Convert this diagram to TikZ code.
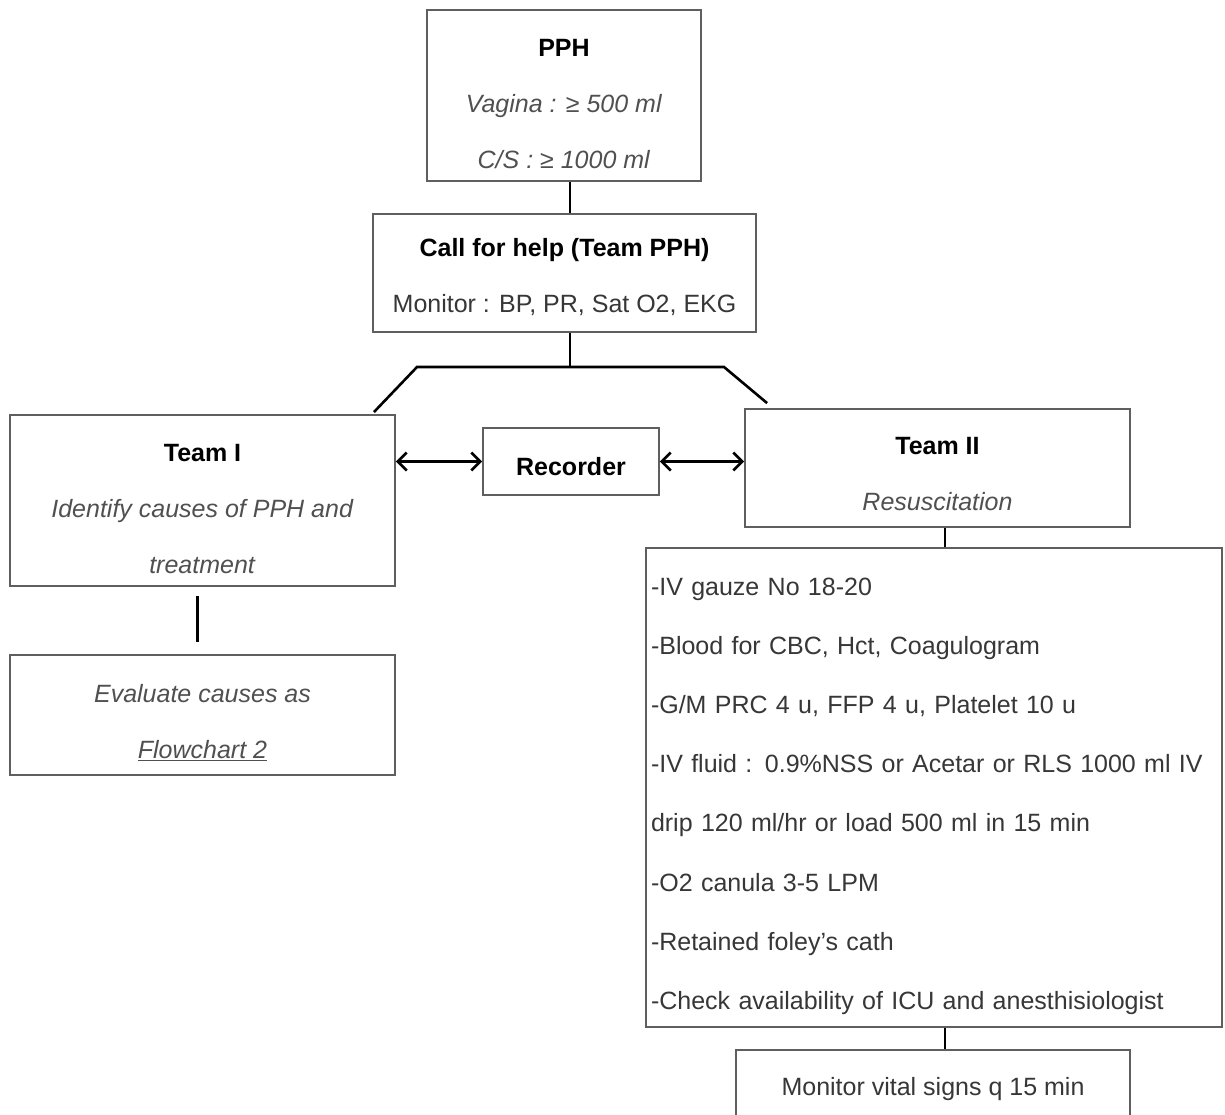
\documentclass[tikz,border=0pt]{standalone}
\usepackage{fontspec}
\setmainfont{Liberation Sans}
\usetikzlibrary{arrows.meta,calc}
\definecolor{boxgray}{RGB}{95,95,95}
\definecolor{txtgray}{RGB}{55,55,55}
\definecolor{itgray}{RGB}{80,80,80}
\newcommand{\hd}[1]{\textcolor{black}{\textbf{#1}}}
\newcommand{\itx}[1]{\textcolor{itgray}{\textit{#1}}}
\newcommand{\strt}[1]{\rule{0pt}{#1pt}}
\begin{document}
\begin{tikzpicture}[x=1pt,y=-1pt,
  box/.style={draw=boxgray,line width=1.8pt,inner sep=0pt,
    font=\fontsize{25}{56}\selectfont,text=txtgray,align=center},
  conn/.style={line width=2.6pt,draw=black},
  dbl/.style={conn,{Straight Barb[length=9pt,width=18pt]}-{Straight Barb[length=9pt,width=18pt]}}]
\clip (0,0) rectangle (1225,1114);
\fill[white] (0,0) rectangle (1225,1114);
% boxes
\node[box,minimum width=274pt,minimum height=171pt] (pph) at (564,95.5)
  {\strt{34}\hd{PPH}\\ \itx{Vagina : ≥ 500 ml}\\ \itx{C/S : ≥ 1000 ml}};
\node[box,minimum width=383pt,minimum height=118pt] (call) at (564.5,273)
  {\strt{27}\hd{Call for help (Team PPH)}\\ Monitor : BP, PR, Sat O2, EKG};
\node[box,minimum width=385pt,minimum height=171pt] (t1) at (202.5,500.5)
  {\strt{34}\hd{Team I}\\ \itx{Identify causes of PPH and}\\ \itx{treatment}};
\node[box,minimum width=176pt,minimum height=67pt] (rec) at (571,461.5)
  {\strt{28}\hd{Recorder}};
\node[box,minimum width=385pt,minimum height=118pt] (t2) at (937.5,468)
  {\strt{29}\hd{Team II}\\ \itx{Resuscitation}};
\node[box,minimum width=385pt,minimum height=120pt] (ev) at (202.5,715)
  {\strt{33}\itx{Evaluate causes as}\\ \itx{\underline{Flowchart 2}}};
\node[box,minimum width=576pt,minimum height=479pt,text width=566pt,
  inner xsep=5pt,align=left,font=\fontsize{25}{59.1}\selectfont] (big) at (934,787.5)
  {\strt{35}-IV gauze No 18-20\\
   -Blood for CBC, Hct, Coagulogram\\
   -G/M PRC 4 u, FFP 4 u, Platelet 10 u\\
   -IV fluid : 0.9\%NSS or Acetar or RLS 1000 ml IV\\
   drip 120 ml/hr or load 500 ml in 15 min\\
   -O2 canula 3-5 LPM\\
   -Retained foley's cath\\
   -Check availability of ICU and anesthisiologist};
\node[box,minimum width=394pt,minimum height=70pt] (mon) at (933,1085)
  {\strt{26}Monitor vital signs q 15 min};
% connectors
\draw[conn] ($(pph.south)+(6,0)$) -- ($(call.north)+(5.5,0)$);
\coordinate (j) at ($(call.south)+(5.5,35)$);
\draw[conn] ($(call.south)+(5.5,0)$) -- (j);
\coordinate (jl) at (417,367);
\coordinate (jr) at (724,367);
\draw[conn] ($(t1.north east)+(-22,-2)$) -- (jl) -- (jr) -- ($(t2.north west)+(23,-5)$);
\draw[dbl] (t1.east |- rec.west) -- (rec.west);
\draw[dbl] (rec.east) -- (rec.east -| t2.west);
\draw[conn] ($(t1.south)+(-5,9)$) -- ($(ev.north)+(-5,-12)$);
\draw[conn] ($(t2.south)+(7.5,0)$) -- ($(big.north)+(11,0)$);
\draw[conn] ($(big.south)+(11,0)$) -- ($(mon.north)+(12,0)$);
\end{tikzpicture}
\end{document}
